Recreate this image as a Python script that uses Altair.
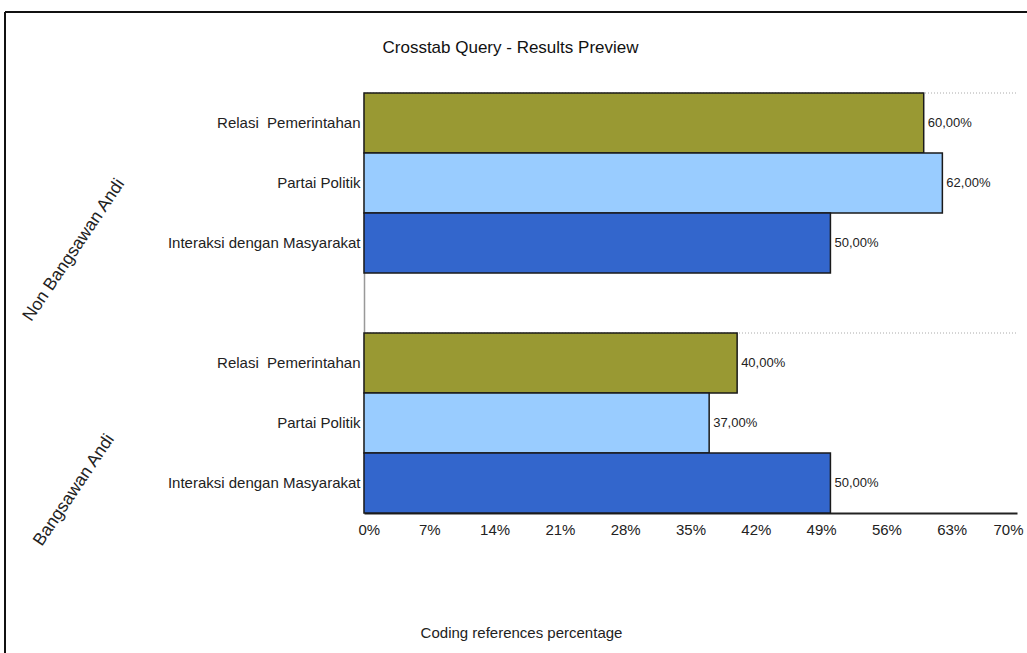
import altair as alt
import pandas as pd

groups = ["Non Bangsawan Andi", "Bangsawan Andi"]
categories = ["Relasi\u00a0 Pemerintahan", "Partai Politik", "Interaksi dengan Masyarakat"]
values_non_bangsawan = [60, 62, 50]
values_bangsawan = [40, 37, 50]
bar_colors = ["#999933", "#99CCFF", "#3366CC"]
x_ticks = [0, 7, 14, 21, 28, 35, 42, 49, 56, 63, 70]

FONT = "Liberation Sans"

rows = []
for g, vals in zip(groups, [values_non_bangsawan, values_bangsawan]):
    for c, v in zip(categories, vals):
        rows.append({
            "group": g,
            "category": c,
            "key": g + "|" + c,
            "value": v,
            "label": f"{v:.2f}%".replace(".", ","),
        })
df = pd.DataFrame(rows)

y_domain = [groups[0] + "|" + c for c in categories] + ["gap"] + [groups[1] + "|" + c for c in categories]

y_scale = alt.Scale(domain=y_domain, paddingInner=0, paddingOuter=0)
y_axis = alt.Axis(
    title=None,
    labelExpr="indexof(datum.value, '|') >= 0 ? split(datum.value, '|')[1] : ''",
    ticks=False,
    domainColor="#999999",
    domainWidth=1.5,
    labelFont=FONT,
    labelFontSize=15,
    labelColor="#222222",
    labelPadding=4,
    labelLimit=400,
)


def yenc(band=0.5):
    return alt.Y("key:N", scale=y_scale, axis=y_axis, sort=y_domain, bandPosition=band)


x_scale = alt.Scale(domain=[0, 70], nice=False, zero=True)
x_axis = alt.Axis(
    values=x_ticks,
    labelExpr="datum.value + '%'",
    grid=False,
    ticks=False,
    domainColor="#222222",
    domainWidth=2,
    labelFont=FONT,
    labelFontSize=15,
    labelColor="#222222",
    labelPadding=9,
    labelFlush=True,
    labelFlushOffset=6,
    title="Coding references percentage",
    titleFont=FONT,
    titleFontSize=15,
    titleFontWeight="normal",
    titleColor="#222222",
    titleX=157,
    titleY=119,
    titleAlign="center",
    titleBaseline="middle",
)

tops = df.groupby("group", sort=False).first().reset_index()

grid_rules = alt.Chart(tops).mark_rule(color="#aaaaaa", strokeDash=[1, 2], strokeWidth=1).encode(
    y=yenc(0),
    x=alt.X("value:Q", scale=x_scale, axis=x_axis),
    x2=alt.datum(70),
).transform_calculate(value="0")

bars = alt.Chart(df).mark_bar(stroke="#1a1a1a", strokeWidth=1.5).encode(
    x=alt.X("value:Q", scale=x_scale, axis=x_axis),
    y=yenc(),
    color=alt.Color("category:N", scale=alt.Scale(domain=categories, range=bar_colors), legend=None),
)

value_text = alt.Chart(df).mark_text(
    align="left", baseline="middle", dx=4, fontSize=13, font=FONT, color="#222222"
).encode(
    x=alt.X("value:Q", scale=x_scale, axis=x_axis),
    y=yenc(),
    text="label:N",
)

gdf = pd.DataFrame({"group": groups, "key": [g + "|" + categories[2] for g in groups]})
group_text = alt.Chart(gdf).mark_text(
    angle=304, align="center", baseline="middle", fontSize=17.5, font=FONT, color="#222222"
).encode(
    y=yenc(0.62),
    x=alt.value(-290),
    text="group:N",
)

one = pd.DataFrame({"a": [0]})
border_top = alt.Chart(one).mark_rule(color="#111111", strokeWidth=2).encode(
    x=alt.value(-359), x2=alt.value(670), y=alt.value(-81)
)
border_left = alt.Chart(one).mark_rule(color="#111111", strokeWidth=2).encode(
    x=alt.value(-359), y=alt.value(-81), y2=alt.value(570)
)

chart = alt.layer(grid_rules, bars, value_text, group_text, border_top, border_left).properties(
    width=653,
    height=420,
    title=alt.TitleParams(
        "Crosstab Query - Results Preview",
        font=FONT,
        fontSize=17,
        fontWeight="normal",
        color="#111111",
        anchor="middle",
        dx=-180,
        baseline="bottom",
        offset=-63,
    ),
    autosize=alt.AutoSizeParams(type="none"),
    padding={"left": 364, "top": 93, "right": 10, "bottom": 140},
    background="white",
).configure_view(stroke=None)

chart.save("out.html", embed_options={"renderer": "svg", "actions": False})
